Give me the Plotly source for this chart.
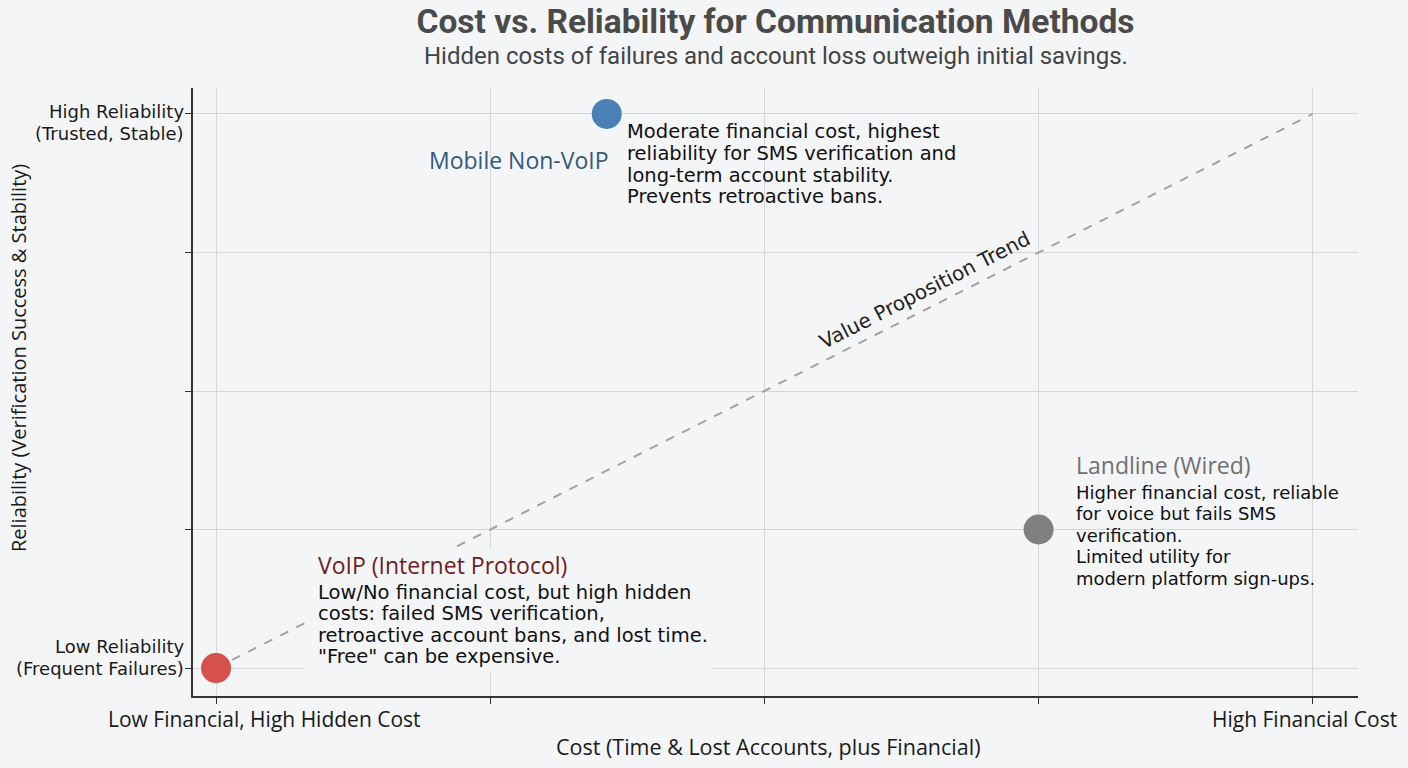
import plotly.graph_objects as go

# Datos de los tres métodos
metodos = ["VoIP (Internet Protocol)", "Mobile Non-VoIP", "Landline (Wired)"]
costo = [1, 3.85, 7]
fiabilidad = [1, 9, 3]
colores = ["#d6504e", "#4a80b5", "#808080"]
colores_nombre = ["#6e1e1e", "#34597c", "#707070"]

desc_voip = [
    "Low/No financial cost, but high hidden",
    "costs: failed SMS verification,",
    "retroactive account bans, and lost time.",
    "\"Free\" can be expensive.",
]
desc_mobile = [
    "Moderate financial cost, highest",
    "reliability for SMS verification and",
    "long-term account stability.",
    "Prevents retroactive bans.",
]
desc_landline = [
    "Higher financial cost, reliable",
    "for voice but fails SMS",
    "verification.",
    "Limited utility for",
    "modern platform sign-ups.",
]

# Línea de tendencia
tendencia_x = [1, 9]
tendencia_y = [1, 9]

x_ticks = [1, 3, 5, 7, 9]
y_ticks = [1, 3, 5, 7, 9]

FONDO = "#f3f5f7"
INTERLINEA = 21.6


def bloque(x, y, nombre, color, lineas, xshift, y_nombre, y_linea, tamano):
    """Devuelve las anotaciones (nombre + líneas) de un método."""
    salida = []
    if nombre:
        salida.append(dict(
            x=x, y=y, xref="x", yref="y", text=nombre, showarrow=False,
            xanchor="left", yanchor="middle", xshift=xshift, yshift=y_nombre,
            font=dict(family="Open Sans", size=23, color=color),
        ))
    for i, linea in enumerate(lineas):
        salida.append(dict(
            x=x, y=y, xref="x", yref="y", text=linea, showarrow=False,
            xanchor="left", yanchor="middle", xshift=xshift,
            yshift=y_linea - i * INTERLINEA,
            font=dict(family="DejaVu Sans", size=tamano, color="#111111"),
        ))
    return salida


def main():
    fig = go.Figure()

    fig.add_trace(
        go.Scatter(
            x=tendencia_x,
            y=tendencia_y,
            mode="lines",
            line=dict(color="#a3a3a3", width=2, dash="dash"),
            hoverinfo="skip",
            showlegend=False,
        )
    )

    fig.add_trace(
        go.Scatter(
            x=costo,
            y=fiabilidad,
            mode="markers",
            marker=dict(size=30, color=colores, line_width=0),
            text=metodos,
            hoverinfo="text",
            showlegend=False,
        )
    )

    # Fondo opaco detrás del texto de VoIP (tapa la línea y la rejilla)
    fig.add_shape(
        type="rect", layer="above", line_width=0, fillcolor=FONDO,
        xref="x", yref="y",
        xsizemode="pixel", xanchor=costo[0], x0=89, x1=496,
        ysizemode="pixel", yanchor=fiabilidad[0], y0=-4, y1=120,
    )

    anotaciones = []

    # VoIP
    anotaciones += bloque(costo[0], fiabilidad[0], metodos[0], colores_nombre[0],
                          desc_voip, 100, 103, 76, 19.5)

    # Mobile Non-VoIP
    anotaciones.append(dict(
        x=costo[1], y=fiabilidad[1], xref="x", yref="y",
        text=metodos[1], showarrow=False, xanchor="right", yanchor="middle",
        xshift=4, yshift=-46,
        font=dict(family="Open Sans", size=23, color=colores_nombre[1]),
    ))
    anotaciones += bloque(costo[1], fiabilidad[1], "", colores_nombre[1],
                          desc_mobile, 18, 0, -18, 19.5)

    # Landline
    anotaciones += bloque(costo[2], fiabilidad[2], metodos[2], colores_nombre[2],
                          desc_landline, 35, 64.5, 37.5, 18)

    # Etiqueta de la tendencia
    anotaciones.append(dict(
        x=6.17, y=6.17, xref="x", yref="y",
        text="Value Proposition Trend", showarrow=False, textangle=-27,
        xshift=0, yshift=20,
        font=dict(family="DejaVu Sans", size=20, color="#222222"),
    ))

    # Etiquetas de los ejes
    etiqueta = dict(family="Open Sans", size=21, color="#1a1a1a")
    etiqueta_y = dict(family="DejaVu Sans", size=18, color="#1a1a1a")
    anotaciones += [
        dict(x=x_ticks[0], y=0, xref="x", yref="paper", yanchor="middle",
             text="Low Financial, High Hidden Cost", showarrow=False,
             xshift=48, yshift=-23, font=etiqueta),
        dict(x=x_ticks[-1], y=0, xref="x", yref="paper", yanchor="middle",
             text="High Financial Cost", showarrow=False,
             xshift=-8, yshift=-23, font=etiqueta),
        dict(x=0, y=y_ticks[-1], xref="paper", yref="y", xanchor="right",
             yanchor="middle", text="High Reliability", showarrow=False,
             xshift=-7, yshift=2, font=etiqueta_y),
        dict(x=0, y=y_ticks[-1], xref="paper", yref="y", xanchor="right",
             yanchor="middle", text="(Trusted, Stable)", showarrow=False,
             xshift=-7, yshift=-20, font=etiqueta_y),
        dict(x=0, y=y_ticks[0], xref="paper", yref="y", xanchor="right",
             yanchor="middle", text="Low Reliability", showarrow=False,
             xshift=-7, yshift=22, font=etiqueta_y),
        dict(x=0, y=y_ticks[0], xref="paper", yref="y", xanchor="right",
             yanchor="middle", text="(Frequent Failures)", showarrow=False,
             xshift=-7, yshift=0, font=etiqueta_y),
        dict(x=0.5, y=0, xref="paper", yref="paper", yanchor="middle",
             text="Cost (Time & Lost Accounts, plus Financial)", showarrow=False,
             xshift=-8, yshift=-50, font=dict(etiqueta, size=21.5)),
        dict(x=0, y=0.5, xref="paper", yref="paper", xanchor="center",
             yanchor="middle",
             text="Reliability (Verification Success & Stability)", showarrow=False,
             textangle=-90, xshift=-175, yshift=34,
             font=dict(etiqueta, size=20)),
        dict(x=0.5, y=1, xref="paper", yref="paper", yanchor="middle",
             text="Hidden costs of failures and account loss outweigh initial savings.",
             showarrow=False, yshift=32,
             font=dict(family="Roboto", size=24, color="#444444")),
    ]

    fig.update_layout(
        width=1408,
        height=768,
        margin=dict(l=193, r=50, t=88, b=72),
        paper_bgcolor=FONDO,
        plot_bgcolor=FONDO,
        title=dict(
            text="<b>Cost vs. Reliability for Communication Methods</b>",
            x=0.5, xref="paper", y=1 - 21 / 768, yanchor="middle",
            font=dict(family="Roboto", size=33.5, color="#4a4a4a"),
        ),
        annotations=anotaciones,
    )

    ejes = dict(
        showgrid=True,
        gridcolor="#d3d7da",
        gridwidth=1,
        zeroline=False,
        showline=True,
        linecolor="#333333",
        linewidth=1.5,
        ticks="outside",
        ticklen=6,
        tickcolor="#333333",
        showticklabels=False,
    )

    fig.update_xaxes(ejes, range=[0.832, 9.33], tickvals=x_ticks)
    fig.update_yaxes(ejes, range=[0.596, 9.375], tickvals=y_ticks)

    fig.write_html(
        "out.html",
        config={"displayModeBar": False},
        post_script="document.body.style.margin='0';"
        "document.body.style.overflow='hidden';",
    )


if __name__ == "__main__":
    main()
